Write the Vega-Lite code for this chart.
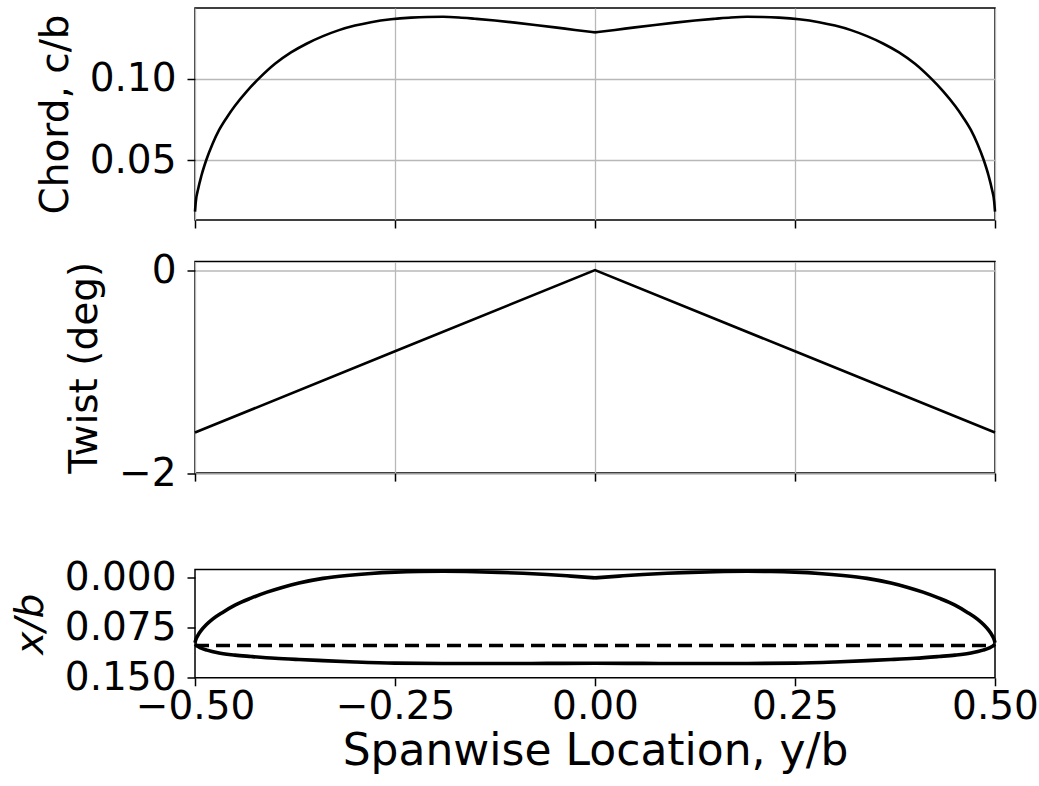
{
  "$schema": "https://vega.github.io/schema/vega-lite/v6.json",
  "background": "white",
  "padding": {"left": 10, "top": 7, "right": 5, "bottom": 5},
  "config": {
    "font": "DejaVu Sans",
    "view": {"stroke": "black", "strokeWidth": 1.5},
    "axis": {
      "labelFont": "DejaVu Sans",
      "titleFont": "DejaVu Sans",
      "labelFontSize": 39,
      "titleFontSize": 39,
      "titleFontWeight": "normal",
      "labelColor": "black",
      "titleColor": "black",
      "tickColor": "black",
      "tickSize": 8,
      "tickWidth": 1.5,
      "domain": false,
      "gridColor": "#b8b8b8",
      "gridWidth": 1.3,
      "labelFlush": false,
      "labelOverlap": false
    },
    "axisY": {"labelPadding": 11, "titlePadding": 14},
    "axisX": {"labelPadding": 2, "titlePadding": 3}
  },
  "datasets": {
    "chord": [
      {"span": -0.5, "c": 0.0185, "side": "L"},
      {"span": -0.499, "c": 0.0245, "side": "L"},
      {"span": -0.496, "c": 0.0325, "side": "L"},
      {"span": -0.492, "c": 0.0405, "side": "L"},
      {"span": -0.486, "c": 0.05, "side": "L"},
      {"span": -0.478, "c": 0.0602, "side": "L"},
      {"span": -0.47, "c": 0.0685, "side": "L"},
      {"span": -0.46, "c": 0.0765, "side": "L"},
      {"span": -0.45, "c": 0.0835, "side": "L"},
      {"span": -0.435, "c": 0.0925, "side": "L"},
      {"span": -0.42, "c": 0.1003, "side": "L"},
      {"span": -0.4, "c": 0.1093, "side": "L"},
      {"span": -0.38, "c": 0.1163, "side": "L"},
      {"span": -0.36, "c": 0.1218, "side": "L"},
      {"span": -0.34, "c": 0.1263, "side": "L"},
      {"span": -0.32, "c": 0.13, "side": "L"},
      {"span": -0.3, "c": 0.1328, "side": "L"},
      {"span": -0.28, "c": 0.1349, "side": "L"},
      {"span": -0.255, "c": 0.1367, "side": "L"},
      {"span": -0.23, "c": 0.1377, "side": "L"},
      {"span": -0.21, "c": 0.1381, "side": "L"},
      {"span": -0.19, "c": 0.1382, "side": "L"},
      {"span": -0.17, "c": 0.1378, "side": "L"},
      {"span": -0.15, "c": 0.137, "side": "L"},
      {"span": -0.125, "c": 0.1359, "side": "L"},
      {"span": -0.1, "c": 0.1346, "side": "L"},
      {"span": -0.075, "c": 0.1332, "side": "L"},
      {"span": -0.05, "c": 0.1317, "side": "L"},
      {"span": -0.025, "c": 0.1301, "side": "L"},
      {"span": 0, "c": 0.1286, "side": "L"},
      {"span": 0, "c": 0.1286, "side": "R"},
      {"span": 0.025, "c": 0.1301, "side": "R"},
      {"span": 0.05, "c": 0.1317, "side": "R"},
      {"span": 0.075, "c": 0.1332, "side": "R"},
      {"span": 0.1, "c": 0.1346, "side": "R"},
      {"span": 0.125, "c": 0.1359, "side": "R"},
      {"span": 0.15, "c": 0.137, "side": "R"},
      {"span": 0.17, "c": 0.1378, "side": "R"},
      {"span": 0.19, "c": 0.1382, "side": "R"},
      {"span": 0.21, "c": 0.1381, "side": "R"},
      {"span": 0.23, "c": 0.1377, "side": "R"},
      {"span": 0.255, "c": 0.1367, "side": "R"},
      {"span": 0.28, "c": 0.1349, "side": "R"},
      {"span": 0.3, "c": 0.1328, "side": "R"},
      {"span": 0.32, "c": 0.13, "side": "R"},
      {"span": 0.34, "c": 0.1263, "side": "R"},
      {"span": 0.36, "c": 0.1218, "side": "R"},
      {"span": 0.38, "c": 0.1163, "side": "R"},
      {"span": 0.4, "c": 0.1093, "side": "R"},
      {"span": 0.42, "c": 0.1003, "side": "R"},
      {"span": 0.435, "c": 0.0925, "side": "R"},
      {"span": 0.45, "c": 0.0835, "side": "R"},
      {"span": 0.46, "c": 0.0765, "side": "R"},
      {"span": 0.47, "c": 0.0685, "side": "R"},
      {"span": 0.478, "c": 0.0602, "side": "R"},
      {"span": 0.486, "c": 0.05, "side": "R"},
      {"span": 0.492, "c": 0.0405, "side": "R"},
      {"span": 0.496, "c": 0.0325, "side": "R"},
      {"span": 0.499, "c": 0.0245, "side": "R"},
      {"span": 0.5, "c": 0.0185, "side": "R"}
    ],
    "twist": [
      {"span": -0.5, "twist": -1.6},
      {"span": -0.25, "twist": -0.8},
      {"span": 0, "twist": 0},
      {"span": 0.25, "twist": -0.8},
      {"span": 0.5, "twist": -1.6}
    ],
    "planform": [
      {"span": -0.5, "x": 0.0975, "edge": "LE", "side": "L"},
      {"span": -0.499, "x": 0.093, "edge": "LE", "side": "L"},
      {"span": -0.496, "x": 0.0855, "edge": "LE", "side": "L"},
      {"span": -0.492, "x": 0.0785, "edge": "LE", "side": "L"},
      {"span": -0.486, "x": 0.0705, "edge": "LE", "side": "L"},
      {"span": -0.478, "x": 0.062, "edge": "LE", "side": "L"},
      {"span": -0.465, "x": 0.0515, "edge": "LE", "side": "L"},
      {"span": -0.45, "x": 0.041, "edge": "LE", "side": "L"},
      {"span": -0.43, "x": 0.0305, "edge": "LE", "side": "L"},
      {"span": -0.41, "x": 0.0215, "edge": "LE", "side": "L"},
      {"span": -0.39, "x": 0.014, "edge": "LE", "side": "L"},
      {"span": -0.37, "x": 0.0078, "edge": "LE", "side": "L"},
      {"span": -0.34, "x": 0.0008, "edge": "LE", "side": "L"},
      {"span": -0.31, "x": -0.0036, "edge": "LE", "side": "L"},
      {"span": -0.28, "x": -0.0066, "edge": "LE", "side": "L"},
      {"span": -0.25, "x": -0.0085, "edge": "LE", "side": "L"},
      {"span": -0.22, "x": -0.0095, "edge": "LE", "side": "L"},
      {"span": -0.19, "x": -0.0098, "edge": "LE", "side": "L"},
      {"span": -0.15, "x": -0.0092, "edge": "LE", "side": "L"},
      {"span": -0.12, "x": -0.0082, "edge": "LE", "side": "L"},
      {"span": -0.09, "x": -0.0068, "edge": "LE", "side": "L"},
      {"span": -0.06, "x": -0.005, "edge": "LE", "side": "L"},
      {"span": -0.03, "x": -0.0026, "edge": "LE", "side": "L"},
      {"span": 0, "x": 0.0, "edge": "LE", "side": "L"},
      {"span": 0, "x": 0.0, "edge": "LE", "side": "R"},
      {"span": 0.03, "x": -0.0026, "edge": "LE", "side": "R"},
      {"span": 0.06, "x": -0.005, "edge": "LE", "side": "R"},
      {"span": 0.09, "x": -0.0068, "edge": "LE", "side": "R"},
      {"span": 0.12, "x": -0.0082, "edge": "LE", "side": "R"},
      {"span": 0.15, "x": -0.0092, "edge": "LE", "side": "R"},
      {"span": 0.19, "x": -0.0098, "edge": "LE", "side": "R"},
      {"span": 0.22, "x": -0.0095, "edge": "LE", "side": "R"},
      {"span": 0.25, "x": -0.0085, "edge": "LE", "side": "R"},
      {"span": 0.28, "x": -0.0066, "edge": "LE", "side": "R"},
      {"span": 0.31, "x": -0.0036, "edge": "LE", "side": "R"},
      {"span": 0.34, "x": 0.0008, "edge": "LE", "side": "R"},
      {"span": 0.37, "x": 0.0078, "edge": "LE", "side": "R"},
      {"span": 0.39, "x": 0.014, "edge": "LE", "side": "R"},
      {"span": 0.41, "x": 0.0215, "edge": "LE", "side": "R"},
      {"span": 0.43, "x": 0.0305, "edge": "LE", "side": "R"},
      {"span": 0.45, "x": 0.041, "edge": "LE", "side": "R"},
      {"span": 0.465, "x": 0.0515, "edge": "LE", "side": "R"},
      {"span": 0.478, "x": 0.062, "edge": "LE", "side": "R"},
      {"span": 0.486, "x": 0.0705, "edge": "LE", "side": "R"},
      {"span": 0.492, "x": 0.0785, "edge": "LE", "side": "R"},
      {"span": 0.496, "x": 0.0855, "edge": "LE", "side": "R"},
      {"span": 0.499, "x": 0.093, "edge": "LE", "side": "R"},
      {"span": 0.5, "x": 0.0975, "edge": "LE", "side": "R"},
      {"span": -0.5, "x": 0.0995, "edge": "TE", "side": "A"},
      {"span": -0.497, "x": 0.1025, "edge": "TE", "side": "A"},
      {"span": -0.493, "x": 0.105, "edge": "TE", "side": "A"},
      {"span": -0.485, "x": 0.1085, "edge": "TE", "side": "A"},
      {"span": -0.47, "x": 0.1128, "edge": "TE", "side": "A"},
      {"span": -0.45, "x": 0.116, "edge": "TE", "side": "A"},
      {"span": -0.43, "x": 0.118, "edge": "TE", "side": "A"},
      {"span": -0.4, "x": 0.1207, "edge": "TE", "side": "A"},
      {"span": -0.37, "x": 0.1226, "edge": "TE", "side": "A"},
      {"span": -0.34, "x": 0.1242, "edge": "TE", "side": "A"},
      {"span": -0.3, "x": 0.1262, "edge": "TE", "side": "A"},
      {"span": -0.25, "x": 0.128, "edge": "TE", "side": "A"},
      {"span": -0.19, "x": 0.1286, "edge": "TE", "side": "A"},
      {"span": -0.12, "x": 0.1286, "edge": "TE", "side": "A"},
      {"span": -0.06, "x": 0.1284, "edge": "TE", "side": "A"},
      {"span": 0, "x": 0.1282, "edge": "TE", "side": "A"},
      {"span": 0.06, "x": 0.1284, "edge": "TE", "side": "A"},
      {"span": 0.12, "x": 0.1286, "edge": "TE", "side": "A"},
      {"span": 0.19, "x": 0.1286, "edge": "TE", "side": "A"},
      {"span": 0.25, "x": 0.128, "edge": "TE", "side": "A"},
      {"span": 0.3, "x": 0.1262, "edge": "TE", "side": "A"},
      {"span": 0.34, "x": 0.1242, "edge": "TE", "side": "A"},
      {"span": 0.37, "x": 0.1226, "edge": "TE", "side": "A"},
      {"span": 0.4, "x": 0.1207, "edge": "TE", "side": "A"},
      {"span": 0.43, "x": 0.118, "edge": "TE", "side": "A"},
      {"span": 0.45, "x": 0.116, "edge": "TE", "side": "A"},
      {"span": 0.47, "x": 0.1128, "edge": "TE", "side": "A"},
      {"span": 0.485, "x": 0.1085, "edge": "TE", "side": "A"},
      {"span": 0.493, "x": 0.105, "edge": "TE", "side": "A"},
      {"span": 0.497, "x": 0.1025, "edge": "TE", "side": "A"},
      {"span": 0.5, "x": 0.0995, "edge": "TE", "side": "A"}
    ],
    "refline": [
      {"span": -0.5, "x": 0.1015},
      {"span": 0.5, "x": 0.1015}
    ]
  },
  "spacing": 63.5,
  "vconcat": [
    {
      "spacing": 19.5,
      "vconcat": [
        {
          "width": 800,
          "height": 212,
          "data": {"name": "chord"},
          "mark": {"type": "line", "color": "black", "strokeWidth": 2.6, "interpolate": "monotone"},
          "encoding": {
            "x": {"field": "span", "type": "quantitative",
                  "scale": {"domain": [-0.5, 0.5], "nice": false, "zero": false},
                  "axis": {"values": [-0.5, -0.25, 0, 0.25, 0.5], "labels": false, "title": null, "grid": true}},
            "y": {"field": "c", "type": "quantitative",
                  "scale": {"domain": [0.0133, 0.1436], "nice": false, "zero": false},
                  "axis": {"values": [0.05, 0.1], "format": ".2f", "title": "Chord, c/b", "grid": true}},
            "detail": {"field": "side"}
          }
        },
        {
          "width": 800,
          "height": 211.6,
          "data": {"name": "twist"},
          "mark": {"type": "line", "color": "black", "strokeWidth": 2.6},
          "encoding": {
            "x": {"field": "span", "type": "quantitative",
                  "scale": {"domain": [-0.5, 0.5], "nice": false, "zero": false},
                  "axis": {"values": [-0.5, -0.25, 0, 0.25, 0.5], "labels": false, "title": null, "grid": true}},
            "y": {"field": "twist", "type": "quantitative",
                  "scale": {"domain": [-2, 0.085], "nice": false, "zero": false},
                  "axis": {"values": [-2, -1, 0], "format": "d", "title": "Twist (deg)", "grid": true}}
          }
        }
      ]
    },
    {
      "width": 800,
      "height": 108.3,
      "layer": [
        {
          "data": {"name": "planform"},
          "mark": {"type": "line", "color": "black", "strokeWidth": 3.6, "interpolate": "monotone"},
          "encoding": {
            "x": {"field": "span", "type": "quantitative",
                  "scale": {"domain": [-0.5, 0.5], "nice": false, "zero": false},
                  "axis": {"values": [-0.5, -0.25, 0, 0.25, 0.5], "format": ".2f", "title": "Spanwise Location, y/b", "titleFontSize": 44, "grid": false}},
            "y": {"field": "x", "type": "quantitative",
                  "scale": {"domain": [-0.0125, 0.15], "nice": false, "zero": false, "reverse": true},
                  "axis": {"values": [0, 0.075, 0.15], "format": ".3f", "title": "x/b", "titleFontStyle": "italic", "grid": false}},
            "detail": [{"field": "edge"}, {"field": "side"}]
          }
        },
        {
          "data": {"name": "refline"},
          "mark": {"type": "line", "color": "black", "strokeWidth": 3.6, "strokeDash": [14, 7]},
          "encoding": {
            "x": {"field": "span", "type": "quantitative"},
            "y": {"field": "x", "type": "quantitative"}
          }
        }
      ]
    }
  ]
}
